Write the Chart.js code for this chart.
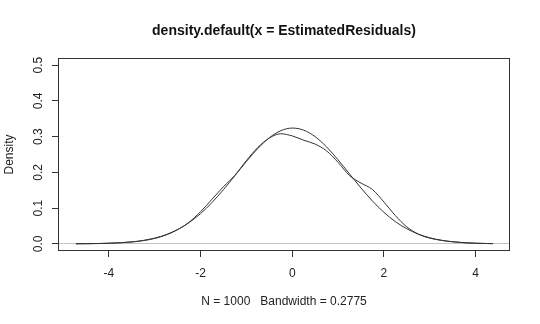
<!DOCTYPE html>
<html>
<head>
<meta charset="utf-8">
<script src="https://cdn.jsdelivr.net/npm/chart.js@4/dist/chart.umd.min.js"></script>
<style>
  body { margin: 0; background: #fff; }
  #wrap { width: 540px; height: 324px; }
</style>
</head>
<body>
<div id="wrap"><canvas id="densityChart" width="540" height="324"></canvas></div>
<script>
// evaluation grid for the residual densities
const xGrid = [-4.72, -4.5, -4.25, -4, -3.75, -3.5, -3.25, -3, -2.75, -2.5, -2.25, -2, -1.75, -1.5, -1.25, -1,
    -0.75, -0.5, -0.25, 0, 0.25, 0.5, 0.75, 1, 1.25, 1.5, 1.75, 2, 2.25, 2.5, 2.75, 3, 3.25, 3.5, 3.75, 4, 4.25, 4.38]

// kernel estimate of the residuals (bandwidth 0.2775)
const kdeDensity = [0.0003, 0.0005, 0.0010, 0.0018, 0.0031, 0.0053, 0.0090, 0.0152, 0.0250, 0.0398, 0.0605, 0.0900,
    0.1250, 0.1600, 0.1920, 0.2330, 0.2700, 0.2960, 0.3080, 0.3020, 0.2900, 0.2790, 0.2600, 0.2280, 0.1910, 0.1700,
    0.1520, 0.1170, 0.0790, 0.0475, 0.0272, 0.0160, 0.0098, 0.0058, 0.0032, 0.0017, 0.0009, 0.0006]

// reference normal curve
const normalDensity = [0.0002, 0.0004, 0.0008, 0.0016, 0.0030, 0.0055, 0.0096, 0.0161, 0.0259, 0.0401, 0.0595, 0.0847,
    0.1157, 0.1517, 0.1909, 0.2305, 0.2670, 0.2968, 0.3166, 0.3240, 0.3181, 0.2998, 0.2710, 0.2351, 0.1957, 0.1563,
    0.1198, 0.0881, 0.0622, 0.0421, 0.0273, 0.0170, 0.0102, 0.0059, 0.0032, 0.0017, 0.0009, 0.0006]

const xTickStep = 2
const yTickStep = 0.1

const mainTitle = 'density.default(x = EstimatedResiduals)'
const xLabel = 'N = 1000   Bandwidth = 0.2775'
const yLabel = 'Density'

Chart.defaults.font.family = "'Liberation Sans', Arial, sans-serif"
Chart.defaults.color = '#222'

const toPoints = ys => xGrid.map((x, i) => ({x: x, y: ys[i]}))

// box around the plotting region
const frame = {
    id: 'frame',
    afterDatasetsDraw(chart)
    {
        const {ctx, chartArea: a} = chart
        ctx.save()
        ctx.strokeStyle = '#333'
        ctx.lineWidth = 1
        ctx.strokeRect(Math.round(a.left) + 0.5, Math.round(a.top) + 0.5,
            Math.round(a.right - a.left) - 1, Math.round(a.bottom - a.top) - 1)
        ctx.restore()
    }
}

const ctx = document.getElementById('densityChart').getContext('2d')
const densityChart = new Chart(ctx,
    {
        type: 'line',
        data: {
            datasets: [
                {
                    label: 'kde',
                    data: toPoints(kdeDensity),
                    borderColor: '#333',
                    borderWidth: 1,
                    pointRadius: 0,
                    cubicInterpolationMode: 'monotone'
                },
                {
                    label: 'normal',
                    data: toPoints(normalDensity),
                    borderColor: '#333',
                    borderWidth: 1,
                    pointRadius: 0,
                    cubicInterpolationMode: 'monotone'
                }
            ]
        },
        options: {
            responsive: false,
            animation: false,
            layout: {padding: {left: 0, right: 30, top: 0, bottom: 0}},
            plugins: {
                legend: {display: false},
                tooltip: {enabled: false},
                title: {
                    display: true,
                    text: mainTitle,
                    fullSize: false,
                    color: '#111',
                    font: {size: 14, weight: 'bold'},
                    padding: {top: 22.6, bottom: 18.6}
                }
            },
            scales: {
                x: {
                    type: 'linear',
                    min: -5.11,
                    max: 4.75,
                    afterFit: s => { s.height = 73 },
                    border: {display: false},
                    grid: {drawOnChartArea: false, tickLength: 6, tickColor: '#333'},
                    ticks: {stepSize: xTickStep, includeBounds: false, padding: 9, font: {size: 12}, maxRotation: 0},
                    title: {display: true, text: xLabel, font: {size: 12}, padding: {top: 0, bottom: 15}}
                },
                y: {
                    min: -0.02,
                    max: 0.52,
                    afterFit: s => { s.width = 58 },
                    border: {display: false},
                    grid: {
                        drawOnChartArea: true,
                        tickLength: 6,
                        tickColor: '#333',
                        color: c => (c.tick && c.tick.value === 0) ? '#c4c4c4' : 'rgba(0,0,0,0)'
                    },
                    ticks: {
                        stepSize: yTickStep,
                        includeBounds: false,
                        minRotation: 90,
                        maxRotation: 90,
                        crossAlign: 'center',
                        padding: 5,
                        font: {size: 12},
                        callback: v => v.toFixed(1)
                    },
                    title: {display: true, text: yLabel, font: {size: 12}, padding: {top: 2, bottom: 0}}
                }
            }
        },
        plugins: [frame]
    })
</script>
</body>
</html>
